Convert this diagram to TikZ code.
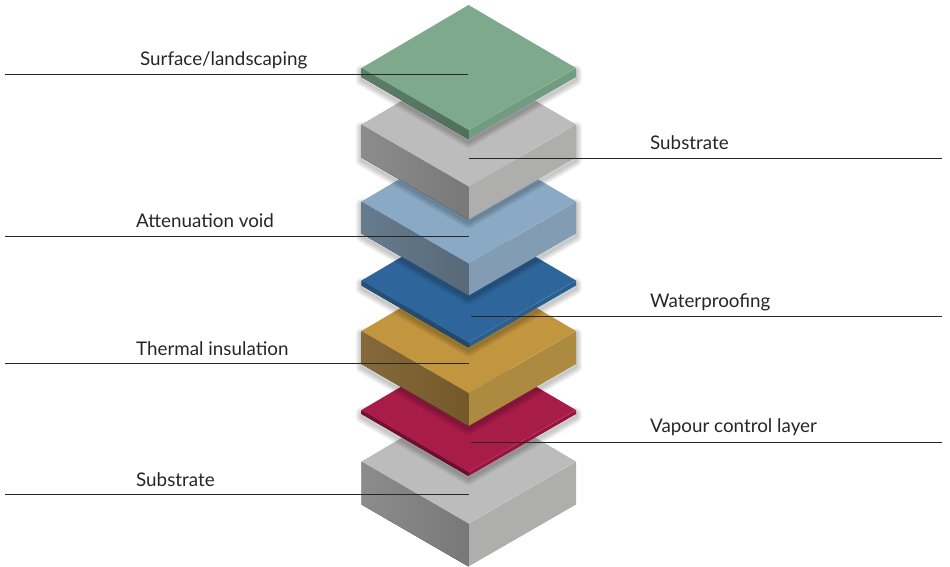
\documentclass[tikz,border=0pt]{standalone}
\usepackage{fontspec}
\setmainfont{Lato}
\definecolor{greenT}{HTML}{7FA98C}\definecolor{greenL}{HTML}{5D7F68}\definecolor{greenD}{HTML}{4F6F59}\definecolor{greenR}{HTML}{729C80}
\definecolor{grayT}{HTML}{BCBCBC}\definecolor{grayL}{HTML}{8C8C8C}\definecolor{grayD}{HTML}{787878}\definecolor{grayR}{HTML}{AEAEAC}
\definecolor{skyT}{HTML}{8AA9C4}\definecolor{skyL}{HTML}{667B8E}\definecolor{skyD}{HTML}{586978}\definecolor{skyR}{HTML}{819CB3}
\definecolor{navyT}{HTML}{2E659B}\definecolor{navyL}{HTML}{24517C}\definecolor{navyD}{HTML}{204870}\definecolor{navyR}{HTML}{2A5F92}
\definecolor{goldT}{HTML}{C2953F}\definecolor{goldL}{HTML}{86693A}\definecolor{goldD}{HTML}{73592A}\definecolor{goldR}{HTML}{AC8A3F}
\definecolor{redT}{HTML}{A81C4A}\definecolor{redL}{HTML}{780F33}\definecolor{redD}{HTML}{6C0C2C}\definecolor{redR}{HTML}{98143F}
\tikzset{
  leader/.style={draw=black!85, line width=.8pt},
  lbl/.style={anchor=base west, inner sep=0pt, font=\fontsize{18.8}{22}\selectfont, text=black!85},
}
\begin{document}
\begin{tikzpicture}[x=1pt, y=-1pt]
  \useasboundingbox (0,0) rectangle (950,566);

  % slabs, bottom one first: y of the left corner, thickness, colours, shadow
  \foreach \ym/\hh/\col/\sd in {461.5/43/gray/0, 410/4/red/.04, 331/33/gold/.04, 280.5/5/navy/.04, 201.5/32/sky/.04, 124.5/33/gray/.04, 68/9/green/.04}{
      \foreach \o in {1,...,6}{
          \draw[black, opacity=\sd, line width=\o*2pt, line join=round]
          ([yshift=-3pt]361.5,\ym+\hh) -- ([yshift=-3pt]468.5,\ym+\hh+62) -- ([yshift=-3pt]576,\ym+\hh)
          -- ([yshift=-3pt]576,\ym) -- ([yshift=-3pt]361.5,\ym) -- cycle;
        }
      \fill[left color=\col L, right color=\col D]
      (361.5,\ym) -- (468.5,\ym+62) -- (468.5,\ym+62+\hh) -- (361.5,\ym+\hh) -- cycle;
      \fill[\col R] (468.5,\ym+62) -- (576,\ym) -- (576,\ym+\hh) -- (468.5,\ym+62+\hh) -- cycle;
      \fill[\col T] (361.5,\ym) -- (468.5,\ym-63) -- (576,\ym) -- (468.5,\ym+62) -- cycle;
      \draw[white, opacity=.1, line width=.6pt] (468.5,\ym+62) -- (576,\ym);
    }

  \coordinate (surfaceA) at (5,74.5);
  \coordinate (surfaceB) at (468,74.5);
  \coordinate (subUpperA) at (469,158);
  \coordinate (subUpperB) at (942,158);
  \coordinate (voidA) at (5,236.5);
  \coordinate (voidB) at (469,236.5);
  \coordinate (waterA) at (471,316);
  \coordinate (waterB) at (942,316);
  \coordinate (thermalA) at (5,363.5);
  \coordinate (thermalB) at (469,363.5);
  \coordinate (vapourA) at (471,442);
  \coordinate (vapourB) at (942,442);
  \coordinate (subLowerA) at (5,494.5);
  \coordinate (subLowerB) at (469,494.5);

  \draw[leader] (surfaceA) -- (surfaceB);
  \draw[leader] (subUpperA) -- (subUpperB);
  \draw[leader] (voidA) -- (voidB);
  \draw[leader] (waterA) -- (waterB);
  \draw[leader] (thermalA) -- (thermalB);
  \draw[leader] (vapourA) -- (vapourB);
  \draw[leader] (subLowerA) -- (subLowerB);

  \node[lbl] (surface) at (140,65) {Surface/landscaping};
  \node[lbl] (subUpper) at (650,149) {Substrate};
  \node[lbl] (void) at (136,227) {Attenuation void};
  \node[lbl] (water) at (650,307) {Waterproofing};
  \node[lbl] (thermal) at (136,355) {Thermal insulation};
  \node[lbl] (vapour) at (650,432) {Vapour control layer};
  \node[lbl] (subLower) at (136,486) {Substrate};
\end{tikzpicture}
\end{document}
